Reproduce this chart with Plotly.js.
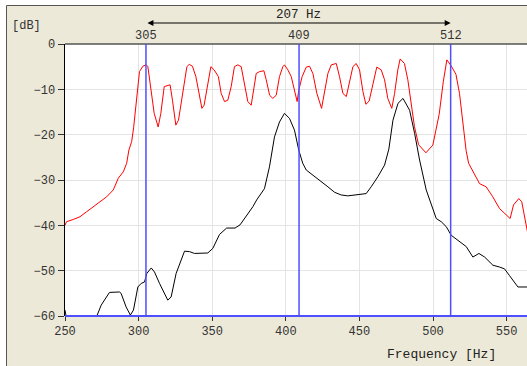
<!DOCTYPE html>
<html>
<head>
<meta charset="utf-8">
<script src="https://cdn.plot.ly/plotly-3.0.1.min.js"></script>
<style>html,body{margin:0;padding:0;background:#fff;}#chart{width:527px;height:366px;}</style>
</head>
<body>
<div id="chart"></div>
<script>
const freqRed = [250,251,255.6,260.2,264.7,269.2,273.8,278.3,282.8,285.1,286.2,289.6,291.9,293.4,295.3,296.6,298.4,299.8,300.6,302.9,305.2,306.3,308.4,310.6,313.3,315.1,317.4,319.6,321.4,323.0,325.3,327.1,329.8,332.8,334.4,336.6,338.9,341.2,343.0,344.5,346.8,349.1,351.3,354.2,356.1,358.4,360.6,362.9,365.1,367.4,369.7,371.9,374.2,376.5,378.7,379.9,382.1,385.1,386.7,389.0,391.2,393.5,395.7,398.0,399.1,401.4,403.7,405.9,407.7,408.8,411.1,413.9,416.1,418.4,421.1,424.3,426.3,428.6,430.9,434.3,436.5,438.8,441.1,443.3,445.6,447.8,450.1,452.4,454.4,456.6,459.1,461.8,464.8,467.1,469.3,472.0,473.9,476.1,477.7,480.6,482.9,485.2,487.4,490.2,495.2,499.9,504.2,507.0,509.4,512.3,515.6,518.0,520.0,522.5,524.2,528.2,531.6,536.1,540.6,545.2,549.7,552.4,554.7,558.3,560.3,563.3,564.5];
const dbRed = [-40.0,-39.2,-38.7,-38.1,-37.0,-35.9,-34.8,-33.7,-32.2,-30.4,-29.6,-28.2,-26.3,-23.4,-21.5,-18.5,-12.4,-7.6,-6.1,-4.9,-4.6,-5.0,-10.2,-15.3,-18.3,-15.3,-9.4,-9.2,-9.0,-12.4,-17.9,-16.8,-10.9,-5.0,-4.5,-4.9,-7.2,-10.9,-14.2,-13.5,-9.4,-5.0,-5.7,-7.2,-10.9,-12.7,-12.4,-9.4,-5.0,-4.6,-5.0,-8.7,-12.7,-13.5,-8.7,-6.5,-6.1,-5.9,-7.9,-11.3,-12.0,-11.3,-7.2,-5.0,-4.6,-5.7,-7.2,-10.2,-12.7,-10.2,-7.2,-5.1,-4.9,-6.5,-10.9,-14.2,-10.9,-6.5,-4.6,-4.3,-7.2,-10.9,-11.6,-8.7,-5.0,-4.3,-5.7,-10.5,-13.3,-12.6,-8.7,-5.1,-5.7,-7.9,-12.0,-14.2,-10.9,-5.7,-3.3,-4.3,-7.9,-13.8,-18.2,-22.2,-24.0,-22.3,-15.5,-8.3,-3.5,-4.8,-6.7,-10.9,-16.8,-23.5,-26.3,-28.6,-30.8,-31.5,-33.7,-36.3,-37.7,-38.5,-35.5,-34.1,-34.8,-39.6,-42.0];
const freqBlack = [250,251,271,274.6,280.2,287,288.1,291.5,294.4,296.5,299.5,301.8,304.0,305.6,308.6,310.8,314.2,319.8,322.1,325.5,331.2,334.6,338.0,342.5,347.0,350.4,355.0,359.8,365.5,368.9,374.5,377.6,380.2,385.5,388.9,392.3,395.7,399.1,402.5,405.9,408.8,411.5,413.9,418.4,424.0,428.6,433.1,437.6,442.1,447.8,451.2,454.6,458.0,462.5,467.1,470.0,472.8,476.2,479.6,484.1,487.5,490.9,495.4,498.8,502.2,505.6,509.0,512.4,518.0,522.6,527.1,531.2,535.1,540.7,545.2,548.6,552.0,557.7,564.5];
const dbBlack = [-58.7,-60.5,-60.5,-57.6,-54.8,-54.7,-55.0,-58.0,-59.8,-58.7,-53.6,-52.8,-52.5,-50.6,-49.4,-50.3,-52.8,-56.5,-55.8,-50.6,-45.7,-45.8,-46.2,-46.1,-46.1,-45.1,-42.0,-40.6,-40.6,-39.9,-37.3,-35.9,-34.4,-31.9,-27.1,-20.5,-17.2,-15.3,-16.4,-19.0,-23.4,-26.3,-27.8,-28.9,-30.4,-31.5,-32.7,-33.3,-33.5,-33.3,-33.1,-33.0,-31.5,-29.3,-26.7,-23.2,-16.8,-13.1,-12.0,-14.6,-19.7,-25.6,-32.2,-35.2,-38.5,-39.2,-40.3,-42.2,-43.6,-44.7,-47.0,-46.2,-47.0,-48.8,-49.2,-49.6,-51.1,-53.6,-53.6];
const cursors = [305, 409, 512];
const cursorLabels = ['305', '409', '512'];
const spanLabel = '207 Hz';
const xTicks = [250, 300, 350, 400, 450, 500, 550];
const yTicks = [0, -10, -20, -30, -40, -50, -60];

const W = 527, H = 366, L = 65, T = 44, B = 50;
const PW = W - L, PH = H - T - B;
const px = v => (v - L) / PW;
const py = v => (H - B - v) / PH;
const FONT = 'Liberation Mono, DejaVu Sans Mono, monospace';
const BLUE = '#4f4fff';

const traces = [
  {x: freqRed, y: dbRed, type: 'scatter', mode: 'lines', line: {color: '#ff0000', width: 1}, hoverinfo: 'none'},
  {x: freqBlack, y: dbBlack, type: 'scatter', mode: 'lines', line: {color: '#000000', width: 1}, hoverinfo: 'none'}
];

const shapes = [
  // white outside the panel frame
  {type: 'rect', xref: 'paper', yref: 'paper', layer: 'above', x0: px(-10), x1: px(600), y0: py(5.5), y1: py(-10), fillcolor: '#ffffff', line: {width: 0}},
  {type: 'rect', xref: 'paper', yref: 'paper', layer: 'above', x0: px(-10), x1: px(6.5), y0: py(400), y1: py(-10), fillcolor: '#ffffff', line: {width: 0}},
  {type: 'line', xref: 'paper', yref: 'paper', layer: 'above', x0: px(6.5), x1: px(600), y0: py(5.5), y1: py(5.5), line: {color: '#555555', width: 1}},
  {type: 'line', xref: 'paper', yref: 'paper', layer: 'above', x0: px(6.5), x1: px(6.5), y0: py(5.5), y1: py(400), line: {color: '#555555', width: 1}},
  {type: 'line', xref: 'paper', yref: 'paper', x0: 0, x1: 1, y0: 1, y1: 1, line: {color: '#555555', width: 1.5}}
];
cursors.forEach(c => shapes.push({type: 'line', xref: 'x', yref: 'paper', x0: c, x1: c, y0: 0, y1: 1, line: {color: BLUE, width: 1.5}}));
shapes.push({type: 'line', xref: 'paper', yref: 'paper', x0: 0, x1: 1, y0: 0, y1: 0, line: {color: BLUE, width: 2}});

const annotations = [
  {xref: 'paper', yref: 'paper', x: px(26), y: py(26), xanchor: 'center', yanchor: 'middle', text: '[dB]', showarrow: false, font: {family: FONT, size: 12, color: '#333'}},
  {xref: 'paper', yref: 'paper', x: px(441), y: py(354), xanchor: 'center', yanchor: 'middle', text: 'Frequency [Hz]', showarrow: false, font: {family: FONT, size: 13, color: '#222'}},
  {xref: 'x', yref: 'paper', x: (cursors[0] + cursors[2]) / 2, y: py(15), xanchor: 'center', yanchor: 'middle', text: spanLabel, showarrow: false, font: {family: FONT, size: 12.5, color: '#222'}},
  {xref: 'x', yref: 'paper', axref: 'x', ayref: 'pixel', x: cursors[2], y: py(23), ax: cursors[0], ay: 0, text: '', showarrow: true, arrowside: 'end+start', arrowhead: 2, arrowsize: 1.2, arrowwidth: 1, arrowcolor: '#000', standoff: 0, startstandoff: 0}
];
cursors.forEach((c, i) => annotations.push({xref: 'x', yref: 'paper', x: c, y: py(36), xanchor: 'center', yanchor: 'middle', text: cursorLabels[i], showarrow: false, font: {family: FONT, size: 12, color: '#333'}}));

const layout = {
  width: W, height: H,
  margin: {l: L, r: 0, t: T, b: B, pad: 0},
  paper_bgcolor: '#ece9d8',
  plot_bgcolor: '#ffffff',
  showlegend: false,
  xaxis: {range: [250, 250 + PW / 1.472], tickvals: xTicks, ticktext: xTicks.map(String), ticks: 'outside', ticklen: 4, tickcolor: '#333', showgrid: true, gridcolor: '#e4e4e4', gridwidth: 1, zeroline: false, showline: false, tickfont: {family: FONT, size: 12, color: '#333'}, fixedrange: true},
  yaxis: {range: [-60, 0], tickvals: yTicks, ticktext: yTicks.map(v => v === 0 ? '0' : '\u2212' + Math.abs(v)), ticks: 'outside', ticklen: 6, tickcolor: '#333', showgrid: true, gridcolor: '#e4e4e4', gridwidth: 1, zeroline: false, showline: true, linecolor: '#000', linewidth: 1.5, tickfont: {family: FONT, size: 12, color: '#333'}, fixedrange: true},
  shapes: shapes,
  annotations: annotations
};

Plotly.newPlot('chart', traces, layout, {staticPlot: true, displayModeBar: false});
</script>
</body>
</html>
